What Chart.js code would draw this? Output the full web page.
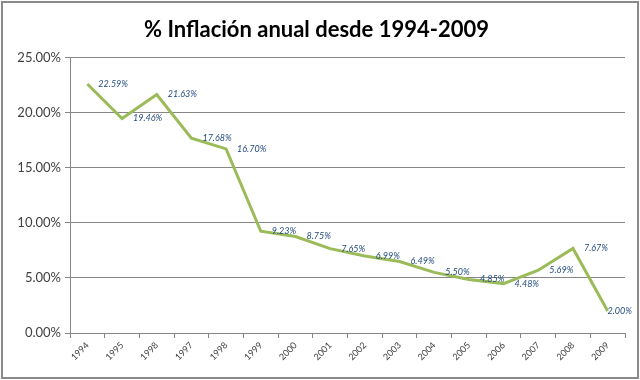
<!DOCTYPE html>
<html><head><meta charset="utf-8">
<script src="https://cdn.jsdelivr.net/npm/chart.js@4"></script>
<style>html,body{margin:0;padding:0;background:#fff}</style>
</head><body>
<canvas id="c" width="640" height="380"></canvas>
<script>
const titleText = '% Inflación anual desde 1994-2009';
const years = ['1994','1995','1998','1997','1998','1999','2000','2001','2002','2003','2004','2005','2006','2007','2008','2009'];
const inflation = [22.59, 19.46, 21.63, 17.68, 16.70, 9.23, 8.75, 7.65, 6.99, 6.49, 5.50, 4.85, 4.48, 5.69, 7.67, 2.00];
const yMin = 0, yMax = 25, yStep = 5;

const frame = {
  id: 'frame',
  beforeDraw(chart) {
    const ctx = chart.ctx;
    ctx.save();
    ctx.fillStyle = '#fff';
    ctx.fillRect(0, 0, chart.width, chart.height);
    ctx.strokeStyle = '#8a8a8a';
    ctx.lineWidth = 2;
    ctx.strokeRect(2, 2, chart.width - 4, chart.height - 4);
    ctx.restore();
  }
};
const valueLabels = {
  id: 'valueLabels',
  afterDatasetsDraw(chart) {
    const ctx = chart.ctx;
    const meta = chart.getDatasetMeta(0);
    ctx.save();
    ctx.font = 'italic 9px Lato';
    ctx.fillStyle = '#1F497D';
    ctx.textAlign = 'left';
    ctx.textBaseline = 'middle';
    meta.data.forEach((p, i) => {
      const t = inflation[i].toFixed(2) + '%';
      const w = ctx.measureText(t).width;
      let x = p.x + 11;
      if (x + w > chart.width - 8) x = chart.width - 8 - w;
      ctx.fillText(t, x, p.y);
    });
    ctx.restore();
  }
};

new Chart(document.getElementById('c'), {
  type: 'line',
  data: {
    labels: years,
    datasets: [{
      data: inflation,
      borderColor: '#9BBB59',
      borderWidth: 3,
      pointRadius: 0,
      tension: 0,
      fill: false
    }]
  },
  options: {
    responsive: false,
    devicePixelRatio: 1,
    animation: false,
    layout: { padding: { top: 4, left: 8, right: 15, bottom: 0 } },
    plugins: {
      legend: { display: false },
      tooltip: { enabled: false },
      title: {
        display: true,
        text: titleText,
        color: '#000',
        font: { family: 'Lato', size: 22, weight: 'bold' },
        padding: { top: 13, bottom: 14 }
      }
    },
    scales: {
      x: {
        offset: true,
        grid: { offset: true, drawOnChartArea: false, drawTicks: true, tickLength: 5, color: '#868686' },
        border: { color: '#868686' },
        ticks: { maxRotation: 45, minRotation: 45, autoSkip: false, color: '#404040', font: { family: 'Lato', size: 9 }, padding: 2 },
        afterFit(s) { s.height = 47; }
      },
      y: {
        min: yMin, max: yMax,
        grid: { color: '#868686', tickLength: 5 },
        border: { color: '#868686' },
        ticks: {
          stepSize: yStep,
          color: '#404040',
          font: { family: 'Lato', size: 13 },
          padding: 4,
          callback: v => v.toFixed(2) + '%'
        },
        afterFit(s) { s.width = 62; }
      }
    }
  },
  plugins: [frame, valueLabels]
});
</script>
</body></html>
